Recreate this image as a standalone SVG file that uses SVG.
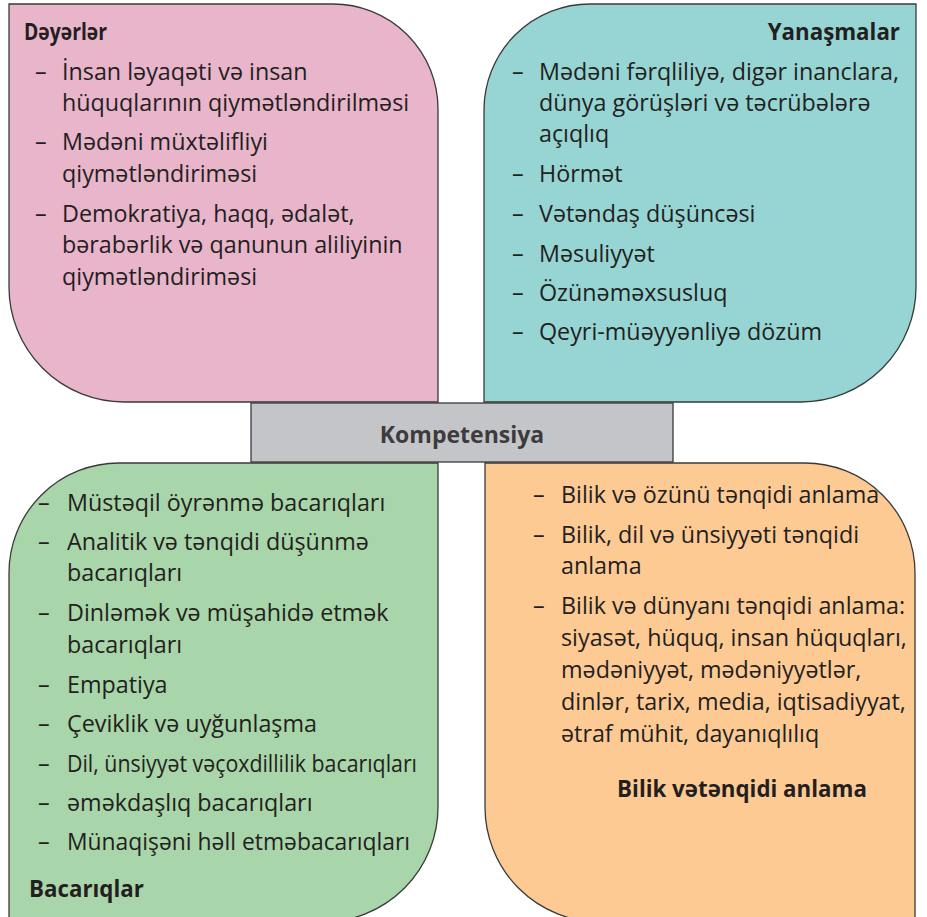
<svg xmlns="http://www.w3.org/2000/svg" width="927" height="917" viewBox="0 0 927 917">
<style>
.box{stroke:#3a3a3a;stroke-width:1.3}
.t{font-family:"Open Sans","Noto Sans","DejaVu Sans",sans-serif;font-size:23.3px;fill:#231f20}
.h{font-family:"Open Sans","Noto Sans","DejaVu Sans",sans-serif;font-size:22.3px;font-weight:bold;fill:#231f20}
.c{font-family:"Open Sans","Noto Sans","DejaVu Sans",sans-serif;font-size:23px;font-weight:bold;fill:#3d3b3c}
</style>
<rect width="927" height="917" fill="#ffffff"/>
<g id="deyerler">
<path class="box" fill="#e8b5cb" d="M9,4 H333 A105,105 0 0 1 438,109 V402 H124 A115,115 0 0 1 9,287 Z"/>
<text class="h" x="24" y="40" textLength="83" lengthAdjust="spacingAndGlyphs">Dəyərlər</text>
<text class="t" x="35" y="80">–</text><text class="t" x="62" y="80">İnsan ləyaqəti və insan</text>
<text class="t" x="62" y="111">hüquqlarının qiymətləndirilməsi</text>
<text class="t" x="35" y="150">–</text><text class="t" x="62" y="150">Mədəni müxtəlifliyi</text>
<text class="t" x="62" y="182">qiymətləndiriməsi</text>
<text class="t" x="35" y="222">–</text><text class="t" x="62" y="222">Demokratiya, haqq, ədalət,</text>
<text class="t" x="62" y="253">bərabərlik və qanunun aliliyinin</text>
<text class="t" x="62" y="285">qiymətləndiriməsi</text>
</g>
<g id="yanasmalar">
<path class="box" fill="#96d5d3" d="M484,110 A106,106 0 0 1 590,4 H916 V287 A115,115 0 0 1 801,402 H484 Z"/>
<text class="h" x="900" y="40" text-anchor="end">Yanaşmalar</text>
<text class="t" x="512" y="80">–</text><text class="t" x="539" y="80">Mədəni fərqliliyə, digər inanclara,</text>
<text class="t" x="539" y="111">dünya görüşləri və təcrübələrə</text>
<text class="t" x="539" y="142">açıqlıq</text>
<text class="t" x="512" y="182">–</text><text class="t" x="539" y="182">Hörmət</text>
<text class="t" x="512" y="222">–</text><text class="t" x="539" y="222">Vətəndaş düşüncəsi</text>
<text class="t" x="512" y="262">–</text><text class="t" x="539" y="262">Məsuliyyət</text>
<text class="t" x="512" y="301">–</text><text class="t" x="539" y="301">Özünəməxsusluq</text>
<text class="t" x="512" y="340">–</text><text class="t" x="539" y="340">Qeyri-müəyyənliyə dözüm</text>
</g>
<g id="bacariqlar">
<path class="box" fill="#a8d5a9" d="M9,573 A110,110 0 0 1 119,463 H438 V807 A115,115 0 0 1 323,922 H9 Z"/>
<text class="t" x="38" y="511">–</text><text class="t" x="67" y="511">Müstəqil öyrənmə bacarıqları</text>
<text class="t" x="38" y="550">–</text><text class="t" x="67" y="550">Analitik və tənqidi düşünmə</text>
<text class="t" x="67" y="581">bacarıqları</text>
<text class="t" x="38" y="621">–</text><text class="t" x="67" y="621">Dinləmək və müşahidə etmək</text>
<text class="t" x="67" y="653">bacarıqları</text>
<text class="t" x="38" y="693">–</text><text class="t" x="67" y="693">Empatiya</text>
<text class="t" x="38" y="732">–</text><text class="t" x="67" y="732">Çeviklik və uyğunlaşma</text>
<text class="t" x="38" y="772">–</text><text class="t" x="67" y="772" textLength="350" lengthAdjust="spacingAndGlyphs">Dil, ünsiyyət vəçoxdillilik bacarıqları</text>
<text class="t" x="38" y="811">–</text><text class="t" x="67" y="811">əməkdaşlıq bacarıqları</text>
<text class="t" x="38" y="850">–</text><text class="t" x="67" y="850" textLength="343" lengthAdjust="spacingAndGlyphs">Münaqişəni həll etməbacarıqları</text>
<text class="h" x="29" y="897">Bacarıqlar</text>
</g>
<g id="bilik">
<path class="box" fill="#fdca94" d="M485,463 H805 A110,110 0 0 1 915,573 V922 H600 A115,115 0 0 1 485,807 Z"/>
<text class="t" x="533" y="503">–</text><text class="t" x="561" y="503">Bilik və özünü tənqidi anlama</text>
<text class="t" x="533" y="543">–</text><text class="t" x="561" y="543">Bilik, dil və ünsiyyəti tənqidi</text>
<text class="t" x="561" y="574">anlama</text>
<text class="t" x="533" y="614">–</text><text class="t" x="561" y="614">Bilik və dünyanı tənqidi anlama:</text>
<text class="t" x="561" y="646">siyasət, hüquq, insan hüquqları,</text>
<text class="t" x="561" y="678">mədəniyyət, mədəniyyətlər,</text>
<text class="t" x="561" y="710">dinlər, tarix, media, iqtisadiyyat,</text>
<text class="t" x="561" y="742">ətraf mühit, dayanıqlılıq</text>
<text class="h" x="742" y="797" text-anchor="middle">Bilik vətənqidi anlama</text>
</g>
<g id="kompetensiya">
<rect class="box" fill="#c4c5c8" x="251" y="403" width="422" height="59"/>
<text class="c" x="462" y="443" text-anchor="middle">Kompetensiya</text>
</g>
</svg>
